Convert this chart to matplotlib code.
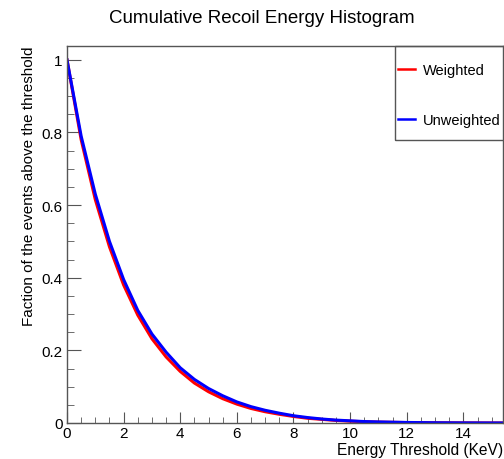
import numpy as np
import matplotlib
matplotlib.use("Agg")
import matplotlib.pyplot as plt
from matplotlib.ticker import MultipleLocator, FuncFormatter
from matplotlib.patches import Rectangle

plt.rcParams["font.family"] = ["Liberation Sans", "DejaVu Sans"]

# Energy threshold (KeV) and fraction of events above it
threshold = [0.0, 0.5, 1.0, 1.5, 2.0, 2.5, 3.0, 3.5, 4.0, 4.5, 5.0, 5.5, 6.0, 6.5, 7.0,
             7.5, 8.0, 8.5, 9.0, 9.5, 10.0, 10.5, 11.0, 12.0, 13.0, 14.0, 15.0, 15.4]
weighted = [1.0, 0.78, 0.615, 0.485, 0.38, 0.297, 0.232, 0.182, 0.142, 0.11, 0.086, 0.067,
            0.052, 0.04, 0.031, 0.024, 0.018, 0.013, 0.01, 0.007, 0.005, 0.0035, 0.0025,
            0.0012, 0.0006, 0.0003, 0.0001, 0.0001]
unweighted = [1.0, 0.79, 0.63, 0.50, 0.395, 0.31, 0.245, 0.195, 0.152, 0.12, 0.095, 0.075,
              0.058, 0.045, 0.035, 0.027, 0.020, 0.015, 0.011, 0.008, 0.006, 0.004, 0.003,
              0.0015, 0.0007, 0.0003, 0.0001, 0.0001]

fig = plt.figure(figsize=(5.04, 4.6), dpi=100)
ax = fig.add_axes([67 / 504, 36 / 460, 436 / 504, 377 / 460])

ax.plot(threshold, weighted, color="#ff0000", lw=2.2, label="Weighted")
ax.plot(threshold, unweighted, color="#0000ff", lw=2.2, label="Unweighted")

ax.set_xlim(0, 15.4)
ax.set_ylim(0, 1.038)

# ROOT-like axes
for side in ["left", "bottom", "right", "top"]:
    ax.spines[side].set_color("#555555")
    ax.spines[side].set_linewidth(1.0)
ax.xaxis.set_major_locator(MultipleLocator(2))
ax.xaxis.set_minor_locator(MultipleLocator(0.5))
ax.yaxis.set_major_locator(MultipleLocator(0.2))
ax.yaxis.set_minor_locator(MultipleLocator(0.05))
ax.yaxis.set_major_formatter(FuncFormatter(lambda v, p: f"{v:g}"))
ax.xaxis.set_major_formatter(FuncFormatter(lambda v, p: f"{v:g}"))
ax.tick_params(which="both", direction="in", color="#555555", labelsize=11, top=False, right=False)
ax.tick_params(axis="y", which="major", length=10, pad=3)
ax.tick_params(axis="y", which="minor", length=5)
ax.tick_params(axis="x", which="major", length=8, pad=2)
ax.tick_params(axis="x", which="minor", length=4.5)

ax.set_xlabel("Energy Threshold (KeV)", fontsize=11.2, loc="right", labelpad=1.5)
ax.set_ylabel("Faction of the events above the threshold", fontsize=11, loc="top", labelpad=4)

fig.text(0.52, 0.96, "Cumulative Recoil Energy Histogram", ha="center", va="center", fontsize=13.5)

# legend box, ROOT TLegend style
ax.add_patch(Rectangle((0.752, 0.751), 0.26, 0.249, transform=ax.transAxes, fill=False,
                       edgecolor="#555555", lw=1.0, clip_on=False, zorder=5))
leg = ax.legend(loc="upper left", bbox_to_anchor=(0.752 + 3 / 436, 0.954), frameon=False,
                fontsize=10.5, handlelength=1.2, handletextpad=0.5, labelspacing=2.45,
                borderpad=0, borderaxespad=0)
for line in leg.get_lines():
    line.set_linewidth(1.8)

fig.savefig("out.png", dpi=100)
